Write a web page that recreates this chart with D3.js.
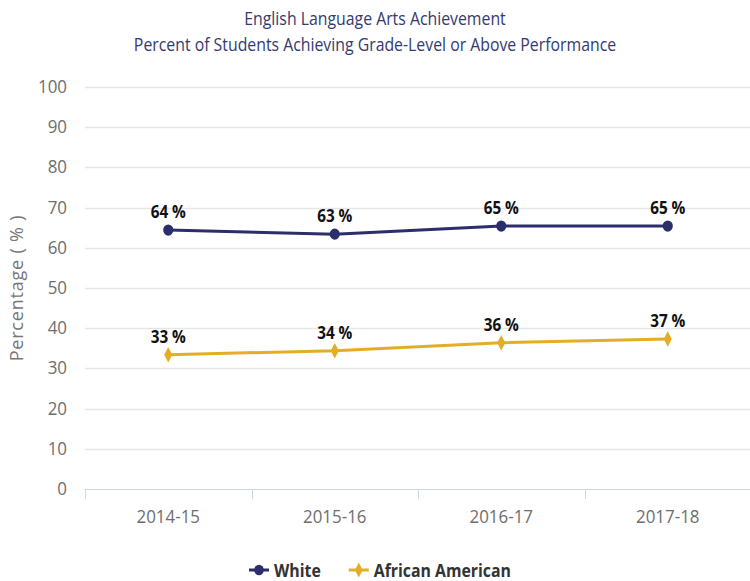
<!DOCTYPE html>
<html>
<head>
<meta charset="utf-8">
<script src="https://cdn.jsdelivr.net/npm/d3@7"></script>
<style>
  body { margin: 0; background: #fff; }
  text { font-family: 'Open Sans', sans-serif; }
</style>
</head>
<body>
<div id="chart"></div>
<script>
const years = ['2014-15', '2015-16', '2016-17', '2017-18']
const white = [64.4, 63.4, 65.4, 65.4]
const africanAmerican = [33.4, 34.4, 36.4, 37.3]
const yTicks = [0, 10, 20, 30, 40, 50, 60, 70, 80, 90, 100]
const titleLines = ['English Language Arts Achievement',
  'Percent of Students Achieving Grade-Level or Above Performance']

const series = [
  {name: 'White', values: white, color: '#2b2e6b', symbol: d3.symbolCircle, size: 100},
  {name: 'African American', values: africanAmerican, color: '#e3ad26', symbol: d3.symbolDiamond, size: 70}
]

const width = 750
const height = 581
const margin = {top: 87, right: 0, bottom: 92, left: 85}

const svg = d3.select('#chart').append('svg')
  .attr('width', width)
  .attr('height', height)

const x = d3.scaleBand().domain(years).range([margin.left, width - margin.right + 1])
const y = d3.scaleLinear().domain([0, 100]).range([height - margin.bottom, margin.top])

// helper for condensed text (source rendering is squeezed horizontally)
function label (g, tx, ty, str, sx) {
  return g.append('text')
    .attr('transform', `translate(${tx},${ty}) scale(${sx},1)`)
    .text(str)
}

// title
titleLines.forEach((t, i) => {
  label(svg, width / 2, 25 + i * 26, t, 0.88)
    .attr('text-anchor', 'middle')
    .style('font-size', '18px')
    .attr('fill', '#333a70')
})

// gridlines
svg.append('g')
  .selectAll('line')
  .data(yTicks.slice(1))
  .join('line')
  .attr('x1', margin.left)
  .attr('x2', width)
  .attr('y1', (d) => Math.round(y(d)) + 0.5)
  .attr('y2', (d) => Math.round(y(d)) + 0.5)
  .attr('stroke', '#e6e6e6')
  .attr('stroke-width', 1.5)

// y labels
const yl = svg.append('g')
yTicks.forEach((d) => {
  label(yl, 67, y(d) + 6, d, 0.94)
    .attr('text-anchor', 'end')
    .style('font-size', '18px')
    .attr('fill', '#6e6e6e')
})

// y axis title
svg.append('text')
  .attr('transform', `translate(23,${(margin.top + height - margin.bottom) / 2}) rotate(-90)`)
  .attr('text-anchor', 'middle')
  .style('font-size', '18px')
  .style('letter-spacing', '0.8px')
  .attr('fill', '#777')
  .text('Percentage ( % )')

// x axis
const xAxis = svg.append('g')
xAxis.append('line')
  .attr('x1', margin.left).attr('x2', width)
  .attr('y1', y(0) + 0.5).attr('y2', y(0) + 0.5)
  .attr('stroke', '#ccd6eb')
xAxis.selectAll('.tick')
  .data(years.concat(['end']))
  .join('line')
  .attr('x1', (d, i) => Math.round(margin.left + i * x.bandwidth()) + 0.5)
  .attr('x2', (d, i) => Math.round(margin.left + i * x.bandwidth()) + 0.5)
  .attr('y1', y(0))
  .attr('y2', y(0) + 10)
  .attr('stroke', '#ccd6eb')
years.forEach((d) => {
  label(xAxis, x(d) + x.bandwidth() / 2, y(0) + 34, d, 0.94)
    .attr('text-anchor', 'middle')
    .style('font-size', '18px')
    .attr('fill', '#6e6e6e')
})

// lines, markers, data labels
const line = d3.line()
  .x((d, i) => x(years[i]) + x.bandwidth() / 2)
  .y((d) => y(d))

series.forEach((s) => {
  const g = svg.append('g')
  g.append('path')
    .datum(s.values)
    .attr('d', line)
    .attr('fill', 'none')
    .attr('stroke', s.color)
    .attr('stroke-width', 3)

  s.values.forEach((v, i) => {
    const cx = x(years[i]) + x.bandwidth() / 2
    g.append('path')
      .attr('d', d3.symbol(s.symbol, s.size)())
      .attr('transform', `translate(${cx},${y(v)}) scale(0.9,1)`)
      .attr('fill', s.color)
    label(g, cx, y(v) - 12, `${Math.round(v)} %`, 0.85)
      .attr('text-anchor', 'middle')
      .style('font-size', '18px')
      .style('font-weight', 'bold')
      .attr('fill', '#111')
  })
})

// legend
const legend = svg.append('g')
let lx = 249
series.forEach((s) => {
  const g = legend.append('g')
  g.append('line')
    .attr('x1', lx).attr('x2', lx + 20)
    .attr('y1', 570).attr('y2', 570)
    .attr('stroke', s.color).attr('stroke-width', 3)
  g.append('path')
    .attr('d', d3.symbol(s.symbol, s.size * 0.9)())
    .attr('transform', `translate(${lx + 10},570) scale(0.9,1)`)
    .attr('fill', s.color)
  const t = label(g, lx + 25, 577, s.name, 0.88)
    .style('font-size', '18px')
    .style('font-weight', 'bold')
    .attr('fill', '#333')
  lx += 25 + t.node().getComputedTextLength() * 0.88 + 28
})
</script>
</body>
</html>
